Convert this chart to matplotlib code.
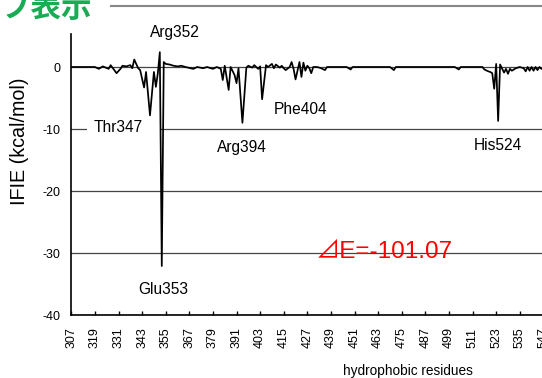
import numpy as np
import matplotlib.pyplot as plt
from matplotlib.lines import Line2D
from matplotlib.patches import Rectangle

# residue number and IFIE value (kcal/mol)
residues = [307, 319, 321, 323, 326, 327, 330, 332, 333, 335,
            337, 338, 339, 341, 342, 344, 345, 347, 349, 350,
            351, 352, 353, 354, 355, 357, 359, 361, 363, 365,
            369, 371, 374, 376, 379, 381, 383, 384, 385, 387,
            388, 390, 391, 392, 394, 396, 397, 399, 400, 402,
            403, 404, 406, 407, 409, 410, 411, 413, 414, 415,
            416, 418, 419, 420, 421, 423, 424, 425, 426, 427,
            428, 429, 430, 432, 434, 436, 437, 447, 449, 450,
            469, 471, 472, 502, 504, 505, 516, 517, 519, 520,
            521, 522, 523, 524, 525, 527, 528, 529, 530, 531,
            533, 534, 535, 537, 538, 539, 540, 541, 542, 543,
            544, 545, 546, 548, 550]
ifie = [0.0, 0.0, -0.3, 0.1, -0.3, 0.3, -1.0, -0.3, 0.2, 0.1,
        0.3, -0.2, 1.2, -0.2, -0.5, -3.3, -0.8, -7.8, -0.8, -3.2,
        -1.0, 2.4, -32.1, 0.8, 0.5, 0.4, 0.2, 0.1, 0.2, 0.0,
        -0.3, 0.0, -0.2, 0.0, -0.3, 0.0, -0.3, -2.1, 0.2, -3.7,
        0.0, -1.3, -2.6, -0.2, -9.0, -0.1, 0.2, -0.1, 0.3, -0.3,
        0.1, -5.2, 0.3, 0.0, 0.5, -0.2, 0.4, -0.1, 0.2, -0.2,
        -0.5, 0.0, 0.8, -0.3, -2.0, 0.8, -1.6, 0.7, -0.6, 0.2,
        -0.2, -1.0, 0.0, 0.0, -0.2, -0.5, 0.0, 0.0, -0.4, 0.0,
        0.0, -0.5, 0.0, 0.0, -0.4, 0.0, 0.0, -0.4, -0.7, -0.8,
        -1.0, -3.5, 0.5, -8.7, 0.4, -0.9, -0.3, -1.1, -0.3, -0.6,
        -0.2, -0.1, 0.0, -0.2, -0.7, 0.0, -0.6, 0.0, -0.6, 0.0,
        -0.5, 0.0, -0.3, -0.2, 0.0]

# labelled residues: name, x, y of label
res_labels = ["Arg352", "Thr347", "Arg394", "Phe404", "His524", "Glu353"]
label_x = [359.7, 330.8, 393.9, 423.5, 524.1, 353.5]
label_y = [5.6, -9.8, -12.95, -6.9, -12.7, -35.9]

total_label = "⊿E=-101.07"
title_text = "グラフ表示"

xticks = list(range(307, 560, 12))
yticks = [-40, -30, -20, -10, 0]

plt.rcParams['font.family'] = ['Liberation Sans', 'Noto Sans CJK JP', 'DejaVu Sans']
plt.rcParams['axes.unicode_minus'] = False

W, H = 542, 378
fig = plt.figure(figsize=(W / 100, H / 100), dpi=100)

# axes: 307 at x=71.3px, 1.967 px per residue; 0 at y=67px, 6.2 px per unit
xmin, xmax = 307, 565
ymin, ymax = -40, 5.4
x0, kx = 71.3, 1.967
y_bot, ky = 315, 6.2
ax = fig.add_axes([x0 / W, (H - y_bot) / H,
                   (xmax - xmin) * kx / W, (ymax - ymin) * ky / H])

ax.plot(residues, ifie, color='black', lw=1.25, zorder=3)

ax.set_xlim(xmin, xmax)
ax.set_ylim(ymin, ymax)
ax.set_xticks(xticks)
ax.set_yticks(yticks)
ax.tick_params(axis='x', direction='in', length=3, width=1, labelsize=9,
               labelrotation=90, pad=9)
ax.tick_params(axis='y', direction='in', length=0, labelsize=9, pad=8)
ax.grid(axis='y', color='#444444', lw=0.9)
ax.set_axisbelow(True)
for s in ['top', 'right']:
    ax.spines[s].set_visible(False)
ax.spines['left'].set_linewidth(1.2)
ax.spines['bottom'].set_linewidth(1.2)

# white box behind Thr347 label hides the gridline
ax.add_patch(Rectangle((315.2, -11.0), 37.0, 2.3, facecolor='white',
                       edgecolor='none', zorder=2))

for name, lx, ly in zip(res_labels, label_x, label_y):
    ax.text(lx, ly, name, fontsize=11.2, ha='center', va='center',
            zorder=4, clip_on=False)

ax.text(431.5, -29.8, total_label, color='red', fontsize=17.5,
        ha='left', va='center', zorder=4)

fig.text(408 / W, 1 - 371 / H, "hydrophobic residues", fontsize=9.8,
         ha='center', va='center')
fig.text(19.5 / W, 1 - 141 / H, "IFIE (kcal/mol)", fontsize=14.2,
         rotation=90, ha='center', va='center')

fig.text(92 / W, 1 - 17 / H, title_text, color='#1aab55', fontsize=22,
         fontweight='bold', ha='right', va='baseline',
         family=['Noto Sans CJK JP'])
fig.add_artist(Line2D([110.6 / W, 1.0], [1 - 5.5 / H, 1 - 5.5 / H],
                      color='#888888', lw=1.5))

fig.savefig('out.png', dpi=100)
